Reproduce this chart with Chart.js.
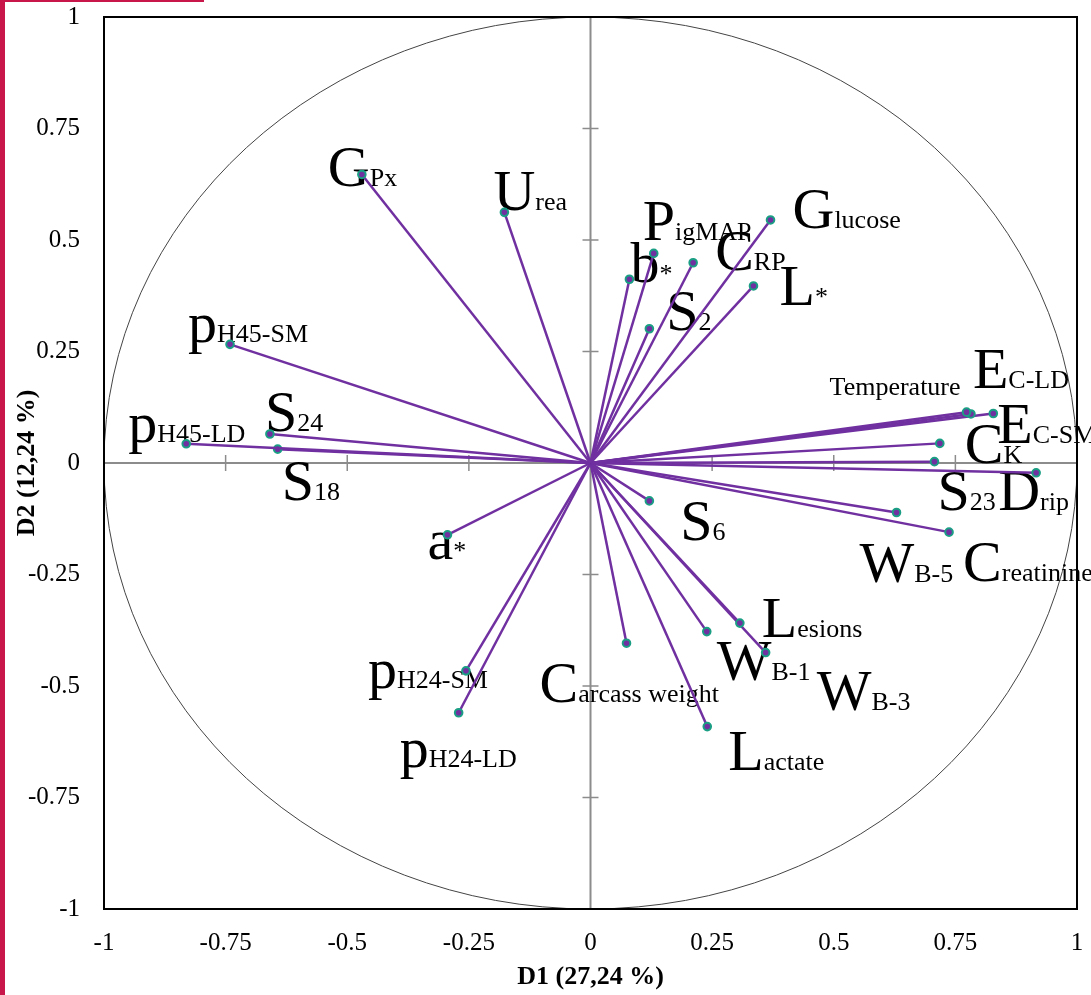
<!DOCTYPE html>
<html>
<head>
<meta charset="utf-8">
<script src="https://cdn.jsdelivr.net/npm/chart.js@4"></script>
<style>
  html, body { margin: 0; padding: 0; background: #fff; }
  #wrap { position: relative; width: 1091px; height: 995px; }
  #barLeft { position: absolute; left: 0; top: 0; width: 5px; height: 995px; background: #c8164a; }
  #barTop { position: absolute; left: 0; top: 0; width: 204px; height: 2px; background: #c8164a; }
  canvas { position: absolute; left: 0; top: 0; }
</style>
</head>
<body>
<div id="wrap">
  <canvas id="pcaCircle" width="1091" height="995"></canvas>
  <div id="barLeft"></div>
  <div id="barTop"></div>
</div>
<script>
// -----------------------------
// DATA: variable loadings on D1 / D2
// -----------------------------
const varBase = ['G', 'U', 'P', 'b', 'C', 'G', 'L', 'S',
    '', 'E', 'E', 'C', 'S', 'D', 'W', 'C',
    'p', 'S', 'p', 'S', 'a', 'p', 'p',
    'S', 'C', 'L', 'W', 'W', 'L'];
const varSub = ['Px', 'rea', 'igMAP', '*', 'RP', 'lucose', '*', '2',
    'Temperature', 'C-LD', 'C-SM', 'K', '23', 'rip', 'B-5', 'reatinine',
    'H45-SM', '24', 'H45-LD', '18', '*', 'H24-SM', 'H24-LD',
    '6', 'arcass weight', 'esions', 'B-1', 'B-3', 'actate'];
const d1 = [-0.470, -0.177, 0.130, 0.080, 0.211, 0.370, 0.335, 0.121,
    0.773, 0.782, 0.828, 0.718, 0.707, 0.916, 0.629, 0.737,
    -0.741, -0.659, -0.831, -0.643, -0.294, -0.256, -0.271,
    0.121, 0.074, 0.307, 0.239, 0.360, 0.240];
const d2 = [0.647, 0.562, 0.470, 0.412, 0.449, 0.545, 0.397, 0.301,
    0.114, 0.110, 0.111, 0.044, 0.003, -0.022, -0.111, -0.155,
    0.266, 0.065, 0.043, 0.031, -0.161, -0.466, -0.560,
    -0.085, -0.404, -0.359, -0.378, -0.425, -0.591];
const tickValues = [-1, -0.75, -0.5, -0.25, 0, 0.25, 0.5, 0.75, 1];
const axisTitleX = 'D1 (27,24 %)';
const axisTitleY = 'D2 (12,24 %)';

// label placement (pixel offset of label start / baseline from its point)
const labelOffset = [[-34, 12], [-11, -2], [-11, -13], [1, 3], [22, 7], [22, 8], [26, 19], [17, 1],
    [-137, -17], [2, -26], [4, 30], [25, 20], [3, 48], [-38, 37], [-37, 69], [14, 49],
    [-42, -2], [-5, -3], [-58, -2], [4, 51], [-20, 24], [-98, 17], [-59, 54],
    [31, 39], [-87, 59], [22, 14], [10, 48], [51, 57], [21, 43]];

const SERIF = '"Liberation Serif", "Times New Roman", serif';
const PURPLE = '#7030a0';
const TEAL = '#1a9e84';

// -----------------------------
// PLUGIN: circle, centre axes, labels, frame
// -----------------------------
const circlePlugin = {
    id: 'circlePlugin',
    beforeDatasetsDraw(chart) {
        const { ctx, chartArea: a, scales: { x, y } } = chart;
        const x0 = x.getPixelForValue(0), y0 = y.getPixelForValue(0);
        ctx.save();

        // unit circle
        ctx.strokeStyle = '#444';
        ctx.lineWidth = 1;
        ctx.beginPath();
        ctx.ellipse(x0, y0, x.getPixelForValue(1) - x0, y0 - y.getPixelForValue(1), 0, 0, 2 * Math.PI);
        ctx.stroke();

        // axes through origin
        ctx.strokeStyle = '#8c8c8c';
        ctx.lineWidth = 2;
        ctx.beginPath();
        ctx.moveTo(a.left, y0); ctx.lineTo(a.right, y0);
        ctx.moveTo(x0, a.top); ctx.lineTo(x0, a.bottom);
        ctx.stroke();
        ctx.lineWidth = 1.5;
        ctx.beginPath();
        tickValues.filter(v => v !== 0 && Math.abs(v) < 1).forEach(v => {
            const px = x.getPixelForValue(v), py = y.getPixelForValue(v);
            ctx.moveTo(px, y0 - 8); ctx.lineTo(px, y0 + 8);
            ctx.moveTo(x0 - 8, py); ctx.lineTo(x0 + 8, py);
        });
        ctx.stroke();

        // variable labels
        ctx.fillStyle = '#000';
        ctx.textBaseline = 'alphabetic';
        ctx.textAlign = 'left';
        varBase.forEach((b, i) => {
            let lx = x.getPixelForValue(d1[i]) + labelOffset[i][0];
            const ly = y.getPixelForValue(d2[i]) + labelOffset[i][1];
            if (b) {
                ctx.font = '58px ' + SERIF;
                ctx.fillText(b, lx, ly);
                lx += ctx.measureText(b).width;
            }
            ctx.font = '26px ' + SERIF;
            ctx.fillText(varSub[i], lx, ly);
        });
        ctx.restore();
    },
    afterDraw(chart) {
        const { ctx, chartArea: a } = chart;
        ctx.save();
        ctx.strokeStyle = '#000';
        ctx.lineWidth = 2;
        ctx.strokeRect(a.left, a.top, a.right - a.left, a.bottom - a.top);
        ctx.restore();
    }
};

// -----------------------------
// BUILD DATASETS (one vector per variable)
// -----------------------------
const datasets = d1.map((v, i) => ({
    label: varBase[i] + varSub[i],
    data: [{ x: 0, y: 0 }, { x: v, y: d2[i] }],
    showLine: true,
    borderColor: PURPLE,
    borderWidth: 2.5,
    pointRadius: [0, 3.8],
    pointBackgroundColor: PURPLE,
    pointBorderColor: TEAL,
    pointBorderWidth: 2
}));

function axisOptions(titleText, titlePadding, tickPadding, fit) {
    return {
        type: 'linear',
        min: -1,
        max: 1,
        afterBuildTicks: s => { s.ticks = tickValues.map(v => ({ value: v })); },
        afterFit: s => {
            fit(s);
            s.paddingTop = 0; s.paddingBottom = 0;
            s.paddingLeft = 0; s.paddingRight = 0;
        },
        grid: { display: false, drawTicks: false },
        border: { display: false },
        ticks: {
            color: '#000',
            font: { family: SERIF, size: 25 },
            padding: tickPadding,
            maxRotation: 0,
            autoSkip: false,
            callback: v => String(+Number(v).toFixed(2))
        },
        title: {
            display: true,
            text: titleText,
            color: '#000',
            font: { family: SERIF, size: 26, weight: 'bold' },
            padding: titlePadding
        }
    };
}

const xOpts = axisOptions(axisTitleX, { top: 0, bottom: 2 }, 19, s => { s.height = 86; });
const yOpts = axisOptions(axisTitleY, { top: 12, bottom: 0 }, 24, s => { s.width = 104; });

new Chart(document.getElementById('pcaCircle'), {
    type: 'scatter',
    data: { datasets: datasets },
    options: {
        responsive: false,
        animation: false,
        devicePixelRatio: 1,
        layout: { padding: { left: 0, top: 17, right: 14, bottom: 0 } },
        plugins: {
            legend: { display: false },
            tooltip: { enabled: false }
        },
        scales: { x: xOpts, y: yOpts }
    },
    plugins: [circlePlugin]
});
</script>
</body>
</html>
